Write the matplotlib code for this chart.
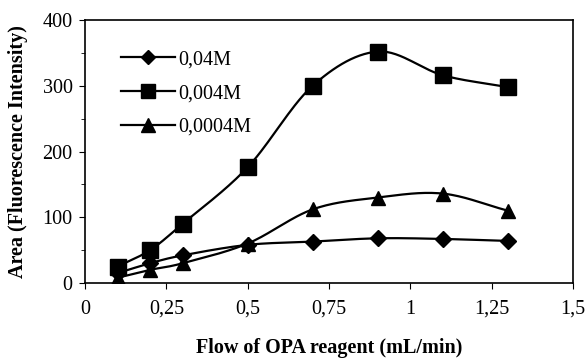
import numpy as np
import matplotlib
matplotlib.use("Agg")
import matplotlib.pyplot as plt
from matplotlib.ticker import MultipleLocator, FuncFormatter

flow = [0.1, 0.2, 0.3, 0.5, 0.7, 0.9, 1.1, 1.3]
conc_004 = [15, 30, 42, 58, 63, 68, 67, 64]
conc_0004 = [25, 50, 90, 176, 300, 352, 316, 298]
conc_00004 = [8, 20, 30, 60, 112, 130, 136, 110]
labels = ["0,04M", "0,004M", "0,0004M"]
markers = ["D", "s", "^"]

plt.rcParams["font.family"] = ["Liberation Serif", "DejaVu Serif"]


def smooth(x, y, n=30):
	# Catmull-Rom through the points, like Excel's smoothed line
	x = np.asarray(x, float)
	y = np.asarray(y, float)
	px = np.concatenate([[2 * x[0] - x[1]], x, [2 * x[-1] - x[-2]]])
	py = np.concatenate([[2 * y[0] - y[1]], y, [2 * y[-1] - y[-2]]])
	xs, ys = [], []
	t = np.linspace(0, 1, n)
	for i in range(1, len(px) - 2):
		for p, out in ((px, xs), (py, ys)):
			p0, p1, p2, p3 = p[i - 1], p[i], p[i + 1], p[i + 2]
			out.extend(0.5 * ((2 * p1) + (-p0 + p2) * t
				+ (2 * p0 - 5 * p1 + 4 * p2 - p3) * t ** 2
				+ (-p0 + 3 * p1 - 3 * p2 + p3) * t ** 3))
	return xs, ys


fig = plt.figure(figsize=(5.85, 3.58), dpi=100)
ax = fig.add_axes([0.1453, 0.2095, 0.834, 0.7346])

sizes = [8, 11, 10.5]
for ys, lab, mk, ms in zip([conc_004, conc_0004, conc_00004], labels, markers, sizes):
	sx, sy = smooth(flow, ys)
	ax.plot(sx, sy, color="black", lw=1.6, zorder=2)
	ax.plot(flow, ys, ls="none", marker=mk, ms=ms, color="black", zorder=3)
	ax.plot([], [], color="black", lw=1.6, marker=mk, ms=ms * 0.9, label=lab)

ax.set_xlim(0, 1.5)
ax.set_ylim(0, 400)
ax.xaxis.set_major_locator(MultipleLocator(0.25))
ax.yaxis.set_major_locator(MultipleLocator(100))
ax.yaxis.set_minor_locator(MultipleLocator(50))
ax.xaxis.set_major_formatter(FuncFormatter(lambda v, p: ("%g" % v).replace(".", ",")))
ax.tick_params(axis="both", which="both", direction="out", labelsize=14.5, color="black")
ax.tick_params(axis="x", pad=8, length=4)
ax.tick_params(axis="y", which="major", length=4, pad=5)
ax.tick_params(axis="y", which="minor", length=3)
for sp in ax.spines.values():
	sp.set_color("black")
	sp.set_linewidth(1.2)

ax.set_xlabel("Flow of OPA reagent (mL/min)", fontsize=14.5, fontweight="bold", labelpad=14)
ax.set_ylabel("Area (Fluorescence Intensity)", fontsize=14.5, fontweight="bold", labelpad=10)

ax.legend(loc="upper left", bbox_to_anchor=(0.057, 0.915), frameon=False, fontsize=14.5,
	handlelength=2.7, handletextpad=0.15, labelspacing=0.72, borderaxespad=0)

fig.savefig("out.png", dpi=100)
